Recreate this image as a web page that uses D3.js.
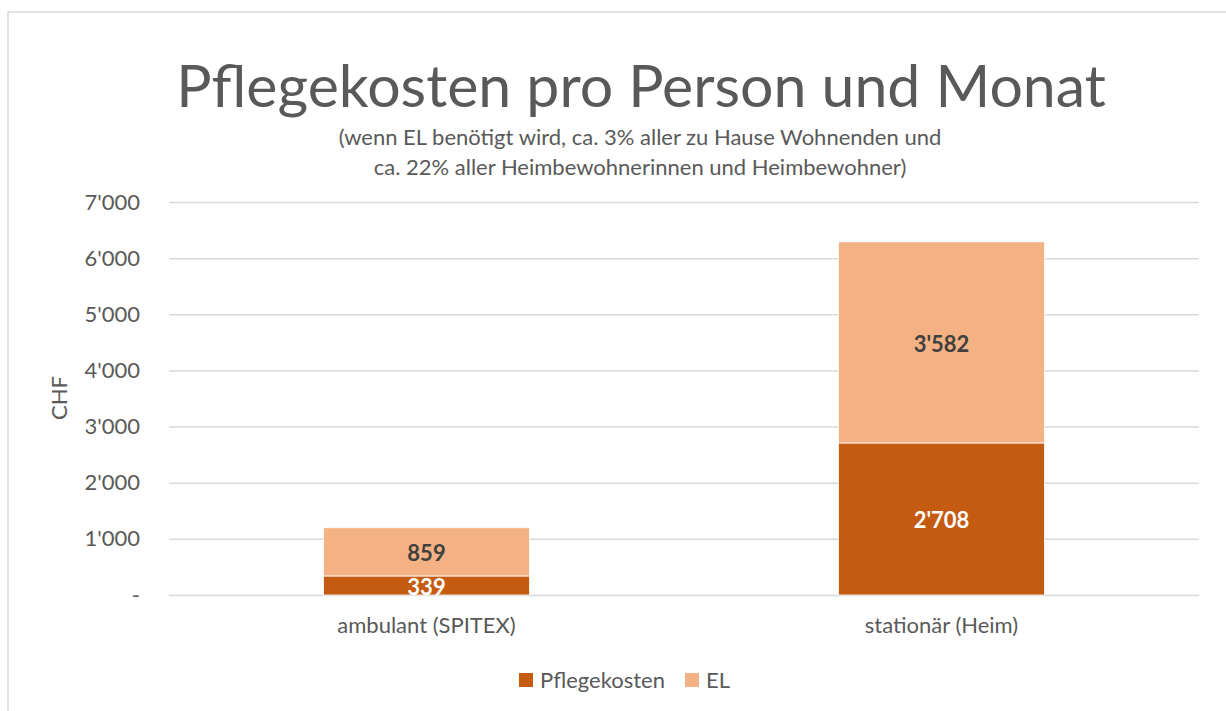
<!DOCTYPE html>
<html>
<head>
<meta charset="utf-8">
<script src="https://cdn.jsdelivr.net/npm/d3@7"></script>
<style>
  body { margin: 0; background: #fff; }
  text { font-family: Lato, "Open Sans", sans-serif; }
</style>
</head>
<body>
<div id="wrapper"></div>
<script>
// Data
const categories = ["ambulant (SPITEX)", "stationär (Heim)"];
const pflegekosten = [339, 2708];
const el = [859, 3582];
const seriesNames = ["Pflegekosten", "EL"];
const yTicks = [0, 1000, 2000, 3000, 4000, 5000, 6000, 7000];

const drawChart = () => {
    const dimensions = {
        width: 1226,
        height: 711,
        margin: { top: 202, right: 27, bottom: 116, left: 169 },
    };
    dimensions.boundedWidth = dimensions.width - dimensions.margin.left - dimensions.margin.right;
    dimensions.boundedHeight = dimensions.height - dimensions.margin.top - dimensions.margin.bottom;

    const colors = ["#C55A11", "#F4B183"];
    const textColor = "#595959";

    const locale = d3.formatLocale({ decimal: ".", thousands: "'", grouping: [3], currency: ["", ""] });
    const fmt = locale.format(",d");

    const wrapper = d3.select("#wrapper")
        .append("svg")
        .attr("width", dimensions.width)
        .attr("height", dimensions.height);

    // chart area border
    wrapper.append("rect")
        .attr("x", 8)
        .attr("y", 12)
        .attr("width", 1300)
        .attr("height", 800)
        .attr("fill", "none")
        .attr("stroke", "#d9d9d9")
        .attr("stroke-width", 1.5);

    // title
    wrapper.append("text")
        .attr("x", 641)
        .attr("y", 107)
        .attr("text-anchor", "middle")
        .attr("fill", textColor)
        .style("font-size", "59px")
        .text("Pflegekosten pro Person und Monat");
    const subtitle = [
        "(wenn EL benötigt wird, ca. 3% aller zu Hause Wohnenden und",
        "ca. 22% aller Heimbewohnerinnen und Heimbewohner)",
    ];
    wrapper.append("g").selectAll("text")
        .data(subtitle)
        .join("text")
        .attr("x", 640)
        .attr("y", (d, i) => 145 + i * 30)
        .attr("text-anchor", "middle")
        .attr("fill", textColor)
        .style("font-size", "22px")
        .text(d => d);

    const bounds = wrapper.append("g")
        .attr("transform", `translate(${dimensions.margin.left},${dimensions.margin.top})`);

    // scales
    const xScale = d3.scaleBand()
        .domain(categories)
        .range([0, dimensions.boundedWidth])
        .paddingInner(0.6)
        .paddingOuter(0.3);
    const yScale = d3.scaleLinear()
        .domain([0, 7000])
        .range([dimensions.boundedHeight, 0]);

    // gridlines + y axis
    const yAxisGenerator = d3.axisLeft(yScale)
        .tickValues(yTicks)
        .tickSize(-dimensions.boundedWidth)
        .tickPadding(29)
        .tickFormat(d => d === 0 ? "-" : fmt(d));
    const yAxis = bounds.append("g").call(yAxisGenerator);
    yAxis.select(".domain").remove();
    yAxis.selectAll(".tick line").attr("stroke", "#d9d9d9").attr("stroke-width", 1.5);
    yAxis.selectAll(".tick text")
        .attr("fill", textColor)
        .style("font-size", "22px");

    wrapper.append("text")
        .attr("transform", "translate(67,398) rotate(-90)")
        .attr("text-anchor", "middle")
        .attr("fill", textColor)
        .style("font-size", "22px")
        .text("CHF");

    // stacked bars
    const table = categories.map((c, i) => ({ category: c, Pflegekosten: pflegekosten[i], EL: el[i] }));
    const stacked = d3.stack().keys(seriesNames)(table);

    const layers = bounds.selectAll(".layer")
        .data(stacked)
        .join("g")
        .attr("class", "layer")
        .attr("fill", (d, i) => colors[i]);
    layers.selectAll("rect")
        .data(d => d)
        .join("rect")
        .attr("x", d => xScale(d.data.category))
        .attr("y", d => yScale(d[1]))
        .attr("width", xScale.bandwidth())
        .attr("height", d => yScale(d[0]) - yScale(d[1]))
        .attr("stroke", "#fff")
        .attr("stroke-width", 0.8);

    // data labels
    layers.selectAll("text")
        .data(d => d)
        .join("text")
        .attr("x", d => xScale(d.data.category) + xScale.bandwidth() / 2)
        .attr("y", d => (yScale(d[0]) + yScale(d[1])) / 2)
        .attr("dy", "0.42em")
        .attr("text-anchor", "middle")
        .attr("fill", function () { return d3.select(this.parentNode).datum().key === "EL" ? "#404040" : "#ffffff"; })
        .style("font-size", "22px")
        .style("font-weight", "bold")
        .text(d => fmt(d[1] - d[0]));

    // x axis labels
    const xAxisGenerator = d3.axisBottom(xScale).tickSize(0).tickPadding(22);
    const xAxis = bounds.append("g")
        .attr("transform", `translate(0,${dimensions.boundedHeight})`)
        .call(xAxisGenerator);
    xAxis.select(".domain").remove();
    xAxis.selectAll(".tick text")
        .attr("fill", textColor)
        .style("font-size", "22px");

    // legend
    const legendX = [519, 685];
    const legend = wrapper.append("g").selectAll("g")
        .data(seriesNames)
        .join("g")
        .attr("transform", (d, i) => `translate(${legendX[i]},673)`);
    legend.append("rect")
        .attr("width", 14)
        .attr("height", 14)
        .attr("fill", (d, i) => colors[i]);
    legend.append("text")
        .attr("x", 21)
        .attr("y", 15)
        .attr("fill", textColor)
        .style("font-size", "22px")
        .text(d => d);
};
drawChart();
</script>
</body>
</html>
